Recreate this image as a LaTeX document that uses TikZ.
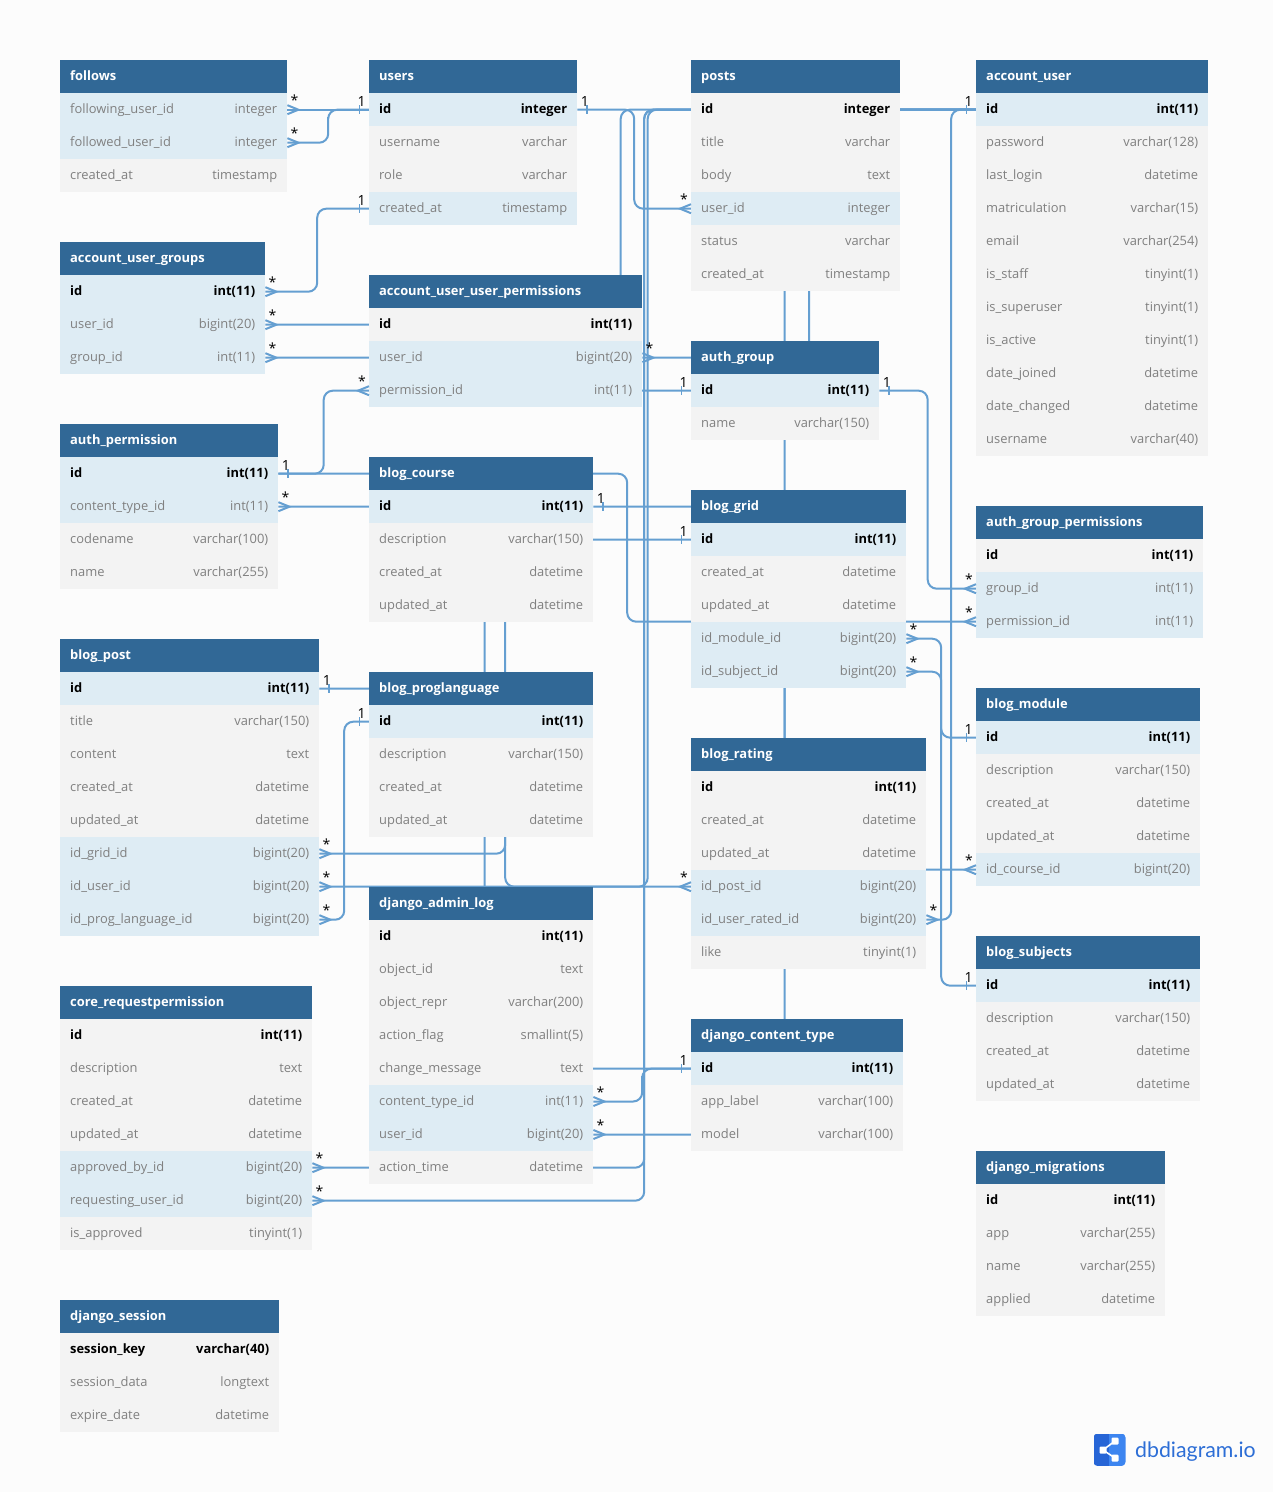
\documentclass[tikz,border=0pt]{standalone}
\usepackage{fontspec}
\setmainfont{Open Sans}
\newfontfamily\logofont{Lato}
\usetikzlibrary{calc,backgrounds}
\AtBeginDocument{\catcode`\_=12 }
\definecolor{headblue}{HTML}{316896}
\definecolor{rowgray}{HTML}{F3F3F3}
\definecolor{rowblue}{HTML}{DEECF4}
\definecolor{linkblue}{HTML}{659FD1}
\definecolor{pagegray}{HTML}{FCFCFC}
\definecolor{textgray}{HTML}{808080}
\definecolor{logodark}{HTML}{2765D6}
\definecolor{logolight}{HTML}{3D85F0}
\definecolor{logotextblue}{HTML}{2D6ED6}
\tikzset{
    tablehead/.style = {rectangle, anchor=north west, minimum height=32.6pt, inner sep=0pt, fill=headblue},
    headtext/.style = {anchor=west, inner sep=0pt, text=white, text height=10pt, text depth=3pt, font=\fontsize{12.9}{16}\selectfont\bfseries},
    rowp/.style = {rectangle, anchor=north west, minimum height=33pt, inner sep=0pt, fill=rowgray},
    rowh/.style = {rowp, fill=rowblue},
    textn/.style = {inner sep=0pt, text=textgray, text height=10pt, text depth=3pt, font=\fontsize{12.9}{16}\selectfont},
    textk/.style = {textn, text=black, font=\fontsize{12.9}{16}\selectfont\bfseries},
    link/.style = {line width=2pt, draw=linkblue},
    bendlink/.style = {link, rounded corners=9pt},
    cardlabel/.style = {inner sep=0pt, text=black, font=\fontsize{14}{16}\selectfont}
}
% one table: name, x, y, width, title, rows
\newcommand{\dbtable}[6]{
    \node (#1) [tablehead, minimum width=#4pt] at (#2,#3) {};
    \node (#1-title) [headtext] at ([xshift=10pt,yshift=-0.2pt]#1.west) {#5};
    \foreach \cname/\ctype/\cfill/\cfont [count=\rownum] in {#6} {
        \node (#1-\cname) [\cfill, minimum width=#4pt] at ($(#1.south west)+(0,{33*(\rownum-1)})$) {};
        \node (#1-\cname-name) [\cfont, anchor=west] at ([xshift=10pt,yshift=-0.4pt]#1-\cname.west) {\cname};
        \node (#1-\cname-type) [\cfont, anchor=east] at ([xshift=-10pt,yshift=-0.4pt]#1-\cname.east) {\ctype};
    }
}
% ends of a connector: row, anchor, side
\newcommand{\markmany}[3]{
    \draw [link] ($(#1.#2)+(0,-4.5)$) -- ++(#3*11,4.5) -- ++(-#3*11,4.5);
    \node (#1-#2-card) [cardlabel] at ($(#1.#2)+(#3*7,-9.1)$) {*};
}
\newcommand{\markone}[3]{
    \draw [link, line width=1.5pt] ($(#1.#2)+(#3*9.5,-4.5)$) -- ++(0,9);
    \node (#1-#2-card) [cardlabel] at ($(#1.#2)+(#3*7.5,-8.1)$) {1};
}
\begin{document}
\begin{tikzpicture}[x=1pt,y=-1pt]
    \useasboundingbox (0,0) rectangle (1273,1492);
    \begin{pgfonlayer}{background}
        \fill [pagegray] (0,0) rectangle (1273,1492);
    \end{pgfonlayer}

    \dbtable{follows}{60}{60}{227}{follows}{
        following_user_id/integer/rowh/textn, followed_user_id/integer/rowh/textn, created_at/timestamp/rowp/textn}
    \dbtable{users}{369}{60}{208}{users}{
        id/integer/rowh/textk, username/varchar/rowp/textn, role/varchar/rowp/textn, created_at/timestamp/rowh/textn}
    \dbtable{posts}{691}{60}{209}{posts}{
        id/integer/rowp/textk, title/varchar/rowp/textn, body/text/rowp/textn, user_id/integer/rowh/textn,
        status/varchar/rowp/textn, created_at/timestamp/rowp/textn}
    \dbtable{account_user}{976}{60}{232}{account_user}{
        id/int(11)/rowh/textk, password/varchar(128)/rowp/textn, last_login/datetime/rowp/textn,
        matriculation/varchar(15)/rowp/textn, email/varchar(254)/rowp/textn, is_staff/tinyint(1)/rowp/textn,
        is_superuser/tinyint(1)/rowp/textn, is_active/tinyint(1)/rowp/textn, date_joined/datetime/rowp/textn,
        date_changed/datetime/rowp/textn, username/varchar(40)/rowp/textn}
    \dbtable{account_user_groups}{60}{242}{205}{account_user_groups}{
        id/int(11)/rowh/textk, user_id/bigint(20)/rowh/textn, group_id/int(11)/rowh/textn}
    \dbtable{account_user_user_permissions}{369}{275}{273}{account_user_user_permissions}{
        id/int(11)/rowp/textk, user_id/bigint(20)/rowh/textn, permission_id/int(11)/rowh/textn}
    \dbtable{auth_group}{691}{341}{188}{auth_group}{
        id/int(11)/rowh/textk, name/varchar(150)/rowp/textn}
    \dbtable{auth_permission}{60}{424}{218}{auth_permission}{
        id/int(11)/rowh/textk, content_type_id/int(11)/rowh/textn, codename/varchar(100)/rowp/textn, name/varchar(255)/rowp/textn}
    \dbtable{blog_course}{369}{457}{224}{blog_course}{
        id/int(11)/rowh/textk, description/varchar(150)/rowp/textn, created_at/datetime/rowp/textn, updated_at/datetime/rowp/textn}
    \dbtable{blog_grid}{691}{490}{215}{blog_grid}{
        id/int(11)/rowh/textk, created_at/datetime/rowp/textn, updated_at/datetime/rowp/textn,
        id_module_id/bigint(20)/rowh/textn, id_subject_id/bigint(20)/rowh/textn}
    \dbtable{auth_group_permissions}{976}{506}{227}{auth_group_permissions}{
        id/int(11)/rowp/textk, group_id/int(11)/rowh/textn, permission_id/int(11)/rowh/textn}
    \dbtable{blog_post}{60}{639}{259}{blog_post}{
        id/int(11)/rowh/textk, title/varchar(150)/rowp/textn, content/text/rowp/textn, created_at/datetime/rowp/textn,
        updated_at/datetime/rowp/textn, id_grid_id/bigint(20)/rowh/textn, id_user_id/bigint(20)/rowh/textn,
        id_prog_language_id/bigint(20)/rowh/textn}
    \dbtable{blog_proglanguage}{369}{672}{224}{blog_proglanguage}{
        id/int(11)/rowh/textk, description/varchar(150)/rowp/textn, created_at/datetime/rowp/textn, updated_at/datetime/rowp/textn}
    \dbtable{blog_module}{976}{688}{224}{blog_module}{
        id/int(11)/rowh/textk, description/varchar(150)/rowp/textn, created_at/datetime/rowp/textn,
        updated_at/datetime/rowp/textn, id_course_id/bigint(20)/rowh/textn}
    \dbtable{blog_rating}{691}{738}{235}{blog_rating}{
        id/int(11)/rowp/textk, created_at/datetime/rowp/textn, updated_at/datetime/rowp/textn,
        id_post_id/bigint(20)/rowh/textn, id_user_rated_id/bigint(20)/rowh/textn, like/tinyint(1)/rowp/textn}
    \dbtable{django_admin_log}{369}{886.8}{224}{django_admin_log}{
        id/int(11)/rowp/textk, object_id/text/rowp/textn, object_repr/varchar(200)/rowp/textn,
        action_flag/smallint(5)/rowp/textn, change_message/text/rowp/textn, content_type_id/int(11)/rowh/textn,
        user_id/bigint(20)/rowh/textn, action_time/datetime/rowp/textn}
    \dbtable{blog_subjects}{976}{936}{224}{blog_subjects}{
        id/int(11)/rowh/textk, description/varchar(150)/rowp/textn, created_at/datetime/rowp/textn, updated_at/datetime/rowp/textn}
    \dbtable{core_requestpermission}{60}{986}{252}{core_requestpermission}{
        id/int(11)/rowp/textk, description/text/rowp/textn, created_at/datetime/rowp/textn, updated_at/datetime/rowp/textn,
        approved_by_id/bigint(20)/rowh/textn, requesting_user_id/bigint(20)/rowh/textn, is_approved/tinyint(1)/rowp/textn}
    \dbtable{django_content_type}{691}{1019}{212}{django_content_type}{
        id/int(11)/rowh/textk, app_label/varchar(100)/rowp/textn, model/varchar(100)/rowp/textn}
    \dbtable{django_migrations}{976}{1151}{189}{django_migrations}{
        id/int(11)/rowp/textk, app/varchar(255)/rowp/textn, name/varchar(255)/rowp/textn, applied/datetime/rowp/textn}
    \dbtable{django_session}{60}{1300}{219}{django_session}{
        session_key/varchar(40)/rowp/textk, session_data/longtext/rowp/textn, expire_date/datetime/rowp/textn}

    % connectors run behind the tables, always east side to west side
    \begin{pgfonlayer}{background}
        \draw [link] (follows-following_user_id.east) -- (users-id.west);
        \foreach \tail/\head in {
            follows-followed_user_id/users-id,
            account_user_groups-id/users-created_at,
            account_user_groups-user_id/account_user-id,
            account_user_groups-group_id/auth_group-id,
            auth_permission-id/account_user_user_permissions-permission_id,
            auth_permission-id/auth_group_permissions-permission_id,
            auth_permission-content_type_id/django_content_type-id,
            users-id/posts-user_id,
            account_user_user_permissions-user_id/account_user-id,
            auth_group-id/auth_group_permissions-group_id,
            blog_course-id/blog_module-id_course_id,
            blog_post-id/blog_rating-id_post_id,
            blog_post-id_grid_id/blog_grid-id,
            blog_post-id_user_id/account_user-id,
            blog_post-id_prog_language_id/blog_proglanguage-id,
            blog_grid-id_module_id/blog_module-id,
            blog_grid-id_subject_id/blog_subjects-id,
            blog_rating-id_user_rated_id/account_user-id,
            django_admin_log-content_type_id/django_content_type-id,
            django_admin_log-user_id/account_user-id,
            core_requestpermission-approved_by_id/account_user-id,
            core_requestpermission-requesting_user_id/account_user-id} {
            \coordinate (bend) at ($(\tail.east)!0.5!(\head.west)$);
            \draw [bendlink] (\tail.east) -| (bend) |- (\head.west);
        }
    \end{pgfonlayer}

    % cardinality marks
    \foreach \row in {follows-following_user_id, follows-followed_user_id, account_user_groups-id, account_user_groups-user_id,
        account_user_groups-group_id, auth_permission-content_type_id, account_user_user_permissions-user_id,
        blog_post-id_grid_id, blog_post-id_user_id, blog_post-id_prog_language_id, blog_grid-id_module_id, blog_grid-id_subject_id,
        blog_rating-id_user_rated_id, django_admin_log-content_type_id, django_admin_log-user_id,
        core_requestpermission-approved_by_id, core_requestpermission-requesting_user_id}
        {\markmany{\row}{east}{1}}
    \foreach \row in {account_user_user_permissions-permission_id, auth_group_permissions-permission_id, posts-user_id,
        auth_group_permissions-group_id, blog_module-id_course_id, blog_rating-id_post_id}
        {\markmany{\row}{west}{-1}}
    \foreach \row in {auth_permission-id, users-id, auth_group-id, blog_course-id, blog_post-id}
        {\markone{\row}{east}{1}}
    \foreach \row in {users-id, users-created_at, account_user-id, auth_group-id, django_content_type-id, blog_grid-id,
        blog_proglanguage-id, blog_module-id, blog_subjects-id}
        {\markone{\row}{west}{-1}}

    % logo
    \begin{scope}
        \clip [rounded corners=4pt] (1093.5,1433.5) rectangle (1125.5,1466);
        \fill [logodark] (1093.5,1433.5) rectangle (1109,1466);
        \fill [logolight] (1109,1433.5) rectangle (1125.5,1466);
    \end{scope}
    \draw [white, line width=1.6pt] (1103,1450) -- (1115,1441) (1103,1450) -- (1115,1458);
    \fill [white, rounded corners=1pt] (1099.5,1446.5) rectangle ++(7,7) (1111.5,1437.5) rectangle ++(7,7) (1111.5,1454.5) rectangle ++(7,7);
    \node (logotext) [anchor=base west, inner sep=0pt, text=logotextblue, font=\fontsize{21.3}{24}\logofont] at (1135,1457) {dbdiagram.io};
\end{tikzpicture}
\end{document}
